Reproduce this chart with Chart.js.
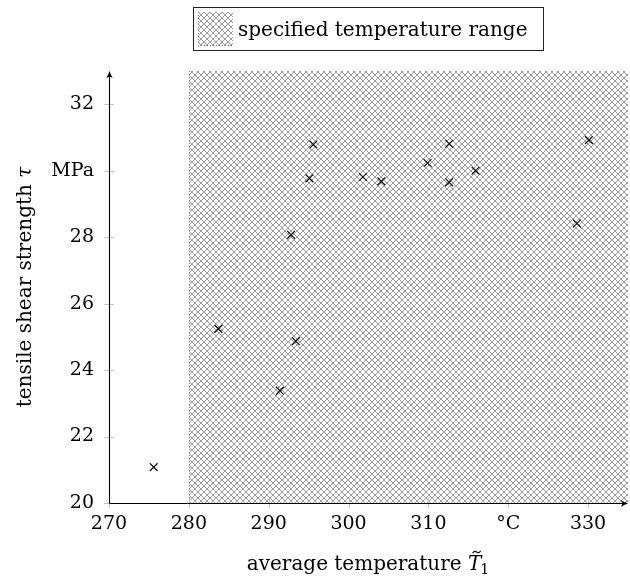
<!DOCTYPE html>
<html>
<head>
<meta charset="utf-8">
<script src="https://cdn.jsdelivr.net/npm/chart.js@4"></script>
<style>
  html, body { margin: 0; padding: 0; background: #fff; }
  #wrap { width: 630px; height: 576px; }
</style>
</head>
<body>
<div id="wrap"><canvas id="chart" width="630" height="576"></canvas></div>
<script>
// measured points: average temperature (°C) vs tensile shear strength (MPa)
const temperatures = [275.6, 283.7, 291.4, 292.8, 293.4, 295.1, 295.6, 301.8, 304.1, 309.9, 312.6, 312.6, 315.9, 328.6, 330.1];
const strengths    = [21.08, 25.24, 23.38, 28.07, 24.87, 29.77, 30.79, 29.81, 29.68, 30.23, 30.81, 29.65, 30.0, 28.41, 30.92];

// specified temperature range (shaded)
const rangeStart = 280;
const rangeEnd = 335;

const xMin = 270, xMax = 335, xStep = 10;
const yMin = 20, yMax = 33, yStep = 2;
const xUnitAt = 320, xUnit = '°C';
const yUnitAt = 30, yUnit = 'MPa';

const serif = '"DejaVu Serif", serif';

function makeHatch(ctx) {
    const c = document.createElement('canvas');
    c.width = 6; c.height = 6;
    const g = c.getContext('2d');
    g.strokeStyle = '#9d9d9d';
    g.lineWidth = 1;
    g.beginPath();
    g.moveTo(-1, -1); g.lineTo(7, 7);
    g.moveTo(-1, 7); g.lineTo(7, -1);
    g.stroke();
    return ctx.createPattern(c, 'repeat');
}

function arrowHead(ctx, x, y, dir) {
    // dir: 'right' or 'up'
    ctx.save();
    ctx.translate(x, y);
    if (dir === 'up') ctx.rotate(-Math.PI / 2);
    ctx.beginPath();
    ctx.moveTo(0, 0);
    ctx.quadraticCurveTo(-3, 0.8, -7, 3.2);
    ctx.lineTo(-5.5, 0);
    ctx.lineTo(-7, -3.2);
    ctx.quadraticCurveTo(-3, -0.8, 0, 0);
    ctx.fillStyle = '#000';
    ctx.fill();
    ctx.restore();
}

const decorations = {
    id: 'decorations',
    afterDraw(chart) {
        const ctx = chart.ctx;
        const { left, right, top, bottom } = chart.chartArea;
        const xs = chart.scales.x, ys = chart.scales.y;

        ctx.save();
        // dotted edge of the shaded range
        const rx = Math.round(xs.getPixelForValue(rangeStart)) + 0.5;
        ctx.strokeStyle = '#777';
        ctx.lineWidth = 1;
        ctx.setLineDash([1, 2]);
        ctx.beginPath();
        ctx.moveTo(rx, top);
        ctx.lineTo(rx, bottom);
        ctx.stroke();
        ctx.setLineDash([]);

        // tick marks (both sides of the axis)
        ctx.strokeStyle = '#c4c4c4';
        ctx.beginPath();
        xs.ticks.forEach(t => {
            const px = Math.round(xs.getPixelForValue(t.value)) + 0.5;
            ctx.moveTo(px, bottom - 5);
            ctx.lineTo(px, bottom + 5);
        });
        ys.ticks.forEach(t => {
            const py = Math.round(ys.getPixelForValue(t.value)) + 0.5;
            ctx.moveTo(left - 5, py);
            ctx.lineTo(left + 5, py);
        });
        ctx.stroke();

        // axis lines with arrows
        const ax = Math.round(left) + 0.5, ay = Math.round(bottom) + 0.5;
        ctx.strokeStyle = '#000';
        ctx.lineWidth = 1.1;
        ctx.beginPath();
        ctx.moveTo(ax, ay);
        ctx.lineTo(right - 2, ay);
        ctx.moveTo(ax, ay);
        ctx.lineTo(ax, top + 2);
        ctx.stroke();
        arrowHead(ctx, right, ay, 'right');
        arrowHead(ctx, ax, top, 'up');

        // axis titles
        ctx.fillStyle = '#000';
        ctx.textBaseline = 'alphabetic';
        ctx.textAlign = 'left';
        const normal = '20px ' + serif, italic = 'italic 20px ' + serif, small = '14px ' + serif;

        // x title: average temperature T~_1
        ctx.font = normal;
        const part1 = 'average temperature ';
        const w1 = ctx.measureText(part1).width;
        ctx.font = italic;
        const wT = ctx.measureText('T').width;
        ctx.font = small;
        const wSub = ctx.measureText('1').width;
        const total = w1 + wT + wSub;
        let x0 = (left + right) / 2 - total / 2;
        const base = 570;
        ctx.font = normal;
        ctx.fillText(part1, x0, base);
        ctx.font = italic;
        ctx.fillText('T', x0 + w1, base);
        // tilde accent over the T
        const tx = x0 + w1 + wT / 2 + 2, ty = base - 18;
        ctx.strokeStyle = '#000';
        ctx.lineWidth = 1.2;
        ctx.beginPath();
        ctx.moveTo(tx - 4, ty + 1.2);
        ctx.bezierCurveTo(tx - 2.5, ty - 1.8, tx - 1, ty - 0.5, tx, ty);
        ctx.bezierCurveTo(tx + 1, ty + 0.5, tx + 2.5, ty + 1.8, tx + 4, ty - 1.2);
        ctx.stroke();
        ctx.font = small;
        ctx.fillText('1', x0 + w1 + wT - 1, base + 4);

        // y title: tensile shear strength tau
        ctx.save();
        ctx.translate(31, (top + bottom) / 2);
        ctx.rotate(-Math.PI / 2);
        ctx.font = normal;
        const p1 = 'tensile shear strength ';
        const wp1 = ctx.measureText(p1).width;
        ctx.font = italic;
        const wtau = ctx.measureText('\u03C4').width;
        const y0 = -(wp1 + wtau) / 2;
        ctx.font = normal;
        ctx.fillText(p1, y0, 0);
        ctx.font = italic;
        ctx.fillText('\u03C4', y0 + wp1, 0);
        ctx.restore();

        // legend
        const ds = chart.data.datasets[0];
        ctx.lineWidth = 1;
        ctx.strokeStyle = '#222';
        ctx.strokeRect(193.5, 7.5, 350, 43);
        ctx.fillStyle = ds.backgroundColor;
        ctx.fillRect(198, 12, 35, 34);
        ctx.strokeStyle = '#777';
        ctx.setLineDash([1, 2]);
        ctx.beginPath();
        ctx.moveTo(198.5, 12);
        ctx.lineTo(198.5, 45.5);
        ctx.lineTo(233, 45.5);
        ctx.stroke();
        ctx.setLineDash([]);
        ctx.fillStyle = '#000';
        ctx.font = normal;
        ctx.fillText(ds.label, 238, 36);

        ctx.restore();
    }
};

const canvas = document.getElementById('chart');
const hatch = makeHatch(canvas.getContext('2d'));

const points = temperatures.map((t, i) => ({ x: t, y: strengths[i] }));

new Chart(canvas, {
    data: {
        datasets: [
            {
                type: 'line',
                label: 'specified temperature range',
                data: [{ x: rangeStart, y: yMax }, { x: rangeEnd, y: yMax }],
                fill: 'start',
                backgroundColor: hatch,
                borderColor: 'rgba(0,0,0,0)',
                borderWidth: 0,
                pointRadius: 0,
                order: 2
            },
            {
                type: 'scatter',
                label: 'measurements',
                data: points,
                pointStyle: 'crossRot',
                pointRadius: 5.5,
                pointBorderWidth: 1.2,
                borderColor: '#111',
                backgroundColor: '#111',
                order: 1
            }
        ]
    },
    options: {
        responsive: false,
        animation: false,
        devicePixelRatio: 1,
        events: [],
        layout: { autoPadding: false, padding: { top: 71, right: 2, left: 0, bottom: 0 } },
        plugins: {
            legend: { display: false },
            tooltip: { enabled: false }
        },
        scales: {
            x: {
                type: 'linear',
                min: xMin,
                max: xMax,
                grid: { display: false, drawTicks: false },
                border: { display: false },
                ticks: {
                    stepSize: xStep,
                    includeBounds: false,
                    padding: 10,
                    color: '#000',
                    maxRotation: 0,
                    font: { family: serif, size: 19 },
                    callback: v => v === xUnitAt ? xUnit : v
                },
                afterFit: s => { s.height = 73; s.paddingLeft = 0; s.paddingRight = 0; }
            },
            y: {
                type: 'linear',
                min: yMin,
                max: yMax,
                grid: { display: false, drawTicks: false },
                border: { display: false },
                ticks: {
                    stepSize: yStep,
                    includeBounds: false,
                    padding: 15,
                    color: '#000',
                    font: { family: serif, size: 19 },
                    callback: v => v === yUnitAt ? yUnit : v
                },
                afterFit: s => { s.width = 109; s.paddingTop = 0; s.paddingBottom = 0; }
            }
        }
    },
    plugins: [decorations]
});
</script>
</body>
</html>
